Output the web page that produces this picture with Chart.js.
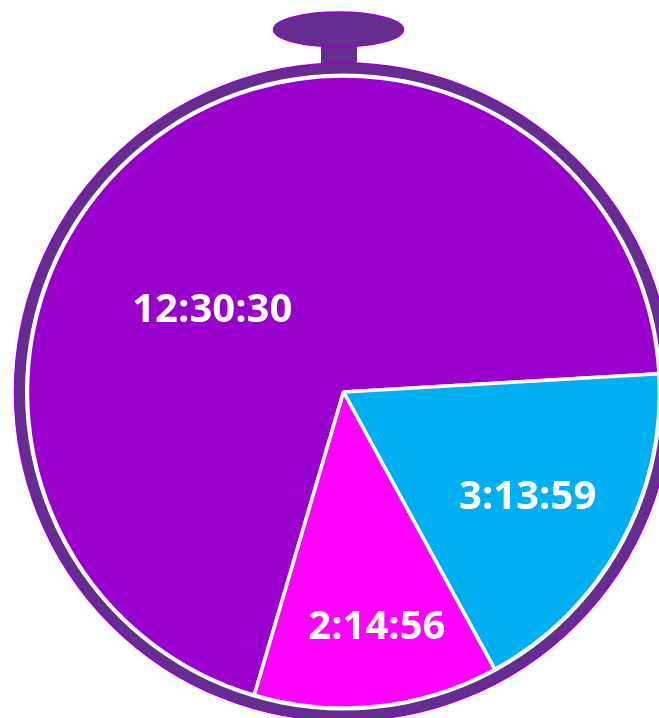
<!DOCTYPE html>
<html>
<head>
<meta charset="utf-8">
<script src="https://cdn.jsdelivr.net/npm/chart.js@4/dist/chart.umd.min.js"></script>
<style>
html, body { margin: 0; padding: 0; overflow: hidden; background: #fff; }
#wrap { position: absolute; left: 0; top: 0; }
</style>
</head>
<body>
<div id="wrap"><canvas id="myPieChart" width="687" height="784"></canvas></div>
<script>
/* DATA */
var categories = ['Segment 1', 'Segment 2', 'Segment 3'];
var durations = ['12:30:30', '3:13:59', '2:14:56'];

function toSeconds(t) {
	var p = t.split(':');
	return (+p[0]) * 3600 + (+p[1]) * 60 + (+p[2]);
}
var seconds = durations.map(toSeconds);

/* STOPWATCH FRAME */
var stopwatchFrame = {
	id: 'stopwatchFrame',
	beforeDatasetsDraw: function(chart) {
		var arc = chart.getDatasetMeta(0).data[0];
		if (!arc) return;
		var ctx = chart.ctx;
		var cx = arc.x, cy = arc.y, r = arc.outerRadius;
		ctx.save();
		ctx.fillStyle = '#662D91';
		ctx.strokeStyle = '#9900CC';
		ctx.lineWidth = 1.5;
		// stem
		ctx.fillRect(cx - 22.5, cy - r - 32, 36, 30);
		// ring
		ctx.beginPath();
		ctx.arc(cx, cy, r + 13, 0, Math.PI * 2);
		ctx.fill();
		ctx.stroke();
		ctx.fillStyle = '#ffffff';
		ctx.beginPath();
		ctx.arc(cx, cy, r + 2.5, 0, Math.PI * 2);
		ctx.fill();
		// knob
		ctx.fillStyle = '#662D91';
		ctx.beginPath();
		ctx.ellipse(cx - 5, cy - r - 46.5, 65, 17.5, 0, 0, Math.PI * 2);
		ctx.fill();
		ctx.stroke();
		ctx.restore();
	}
};

/* SLICE LABELS */
var sliceLabels = {
	id: 'sliceLabels',
	afterDatasetsDraw: function(chart, args, opts) {
		var ctx = chart.ctx;
		ctx.save();
		ctx.font = opts.font;
		ctx.fillStyle = opts.color;
		ctx.textAlign = 'center';
		ctx.textBaseline = 'middle';
		chart.getDatasetMeta(0).data.forEach(function(arc, i) {
			var p = arc.getProps(['startAngle', 'endAngle', 'outerRadius', 'x', 'y'], true);
			var a = (p.startAngle + p.endAngle) / 2 + opts.angleShift[i] * Math.PI / 180;
			var d = p.outerRadius * opts.radiusFrac[i];
			ctx.fillText(durations[i], p.x + Math.cos(a) * d, p.y + Math.sin(a) * d + 1);
		});
		ctx.restore();
	}
};

/* PIE CHART */
var ctxPie = document.getElementById('myPieChart').getContext('2d');
var myPieChart = new Chart(ctxPie, {
	type: 'pie',
	data: {
		labels: categories,
		datasets: [{
			data: seconds,
			backgroundColor: ['#9900CC', '#00B0F0', '#FF00FF'],
			borderColor: '#ffffff',
			borderWidth: 3.5,
			radius: 316
		}]
	},
	options: {
		responsive: false,
		animation: false,
		rotation: 196.4,
		layout: { padding: 0 },
		plugins: {
			legend: { display: false },
			tooltip: { enabled: false },
			sliceLabels: {
				font: 'bold 40px "Open Sans"',
				color: '#ffffff',
				radiusFrac: [0.49, 0.67, 0.75],
				angleShift: [-19.5, 0.5, -2]
			}
		}
	},
	plugins: [stopwatchFrame, sliceLabels]
});
</script>
</body>
</html>
